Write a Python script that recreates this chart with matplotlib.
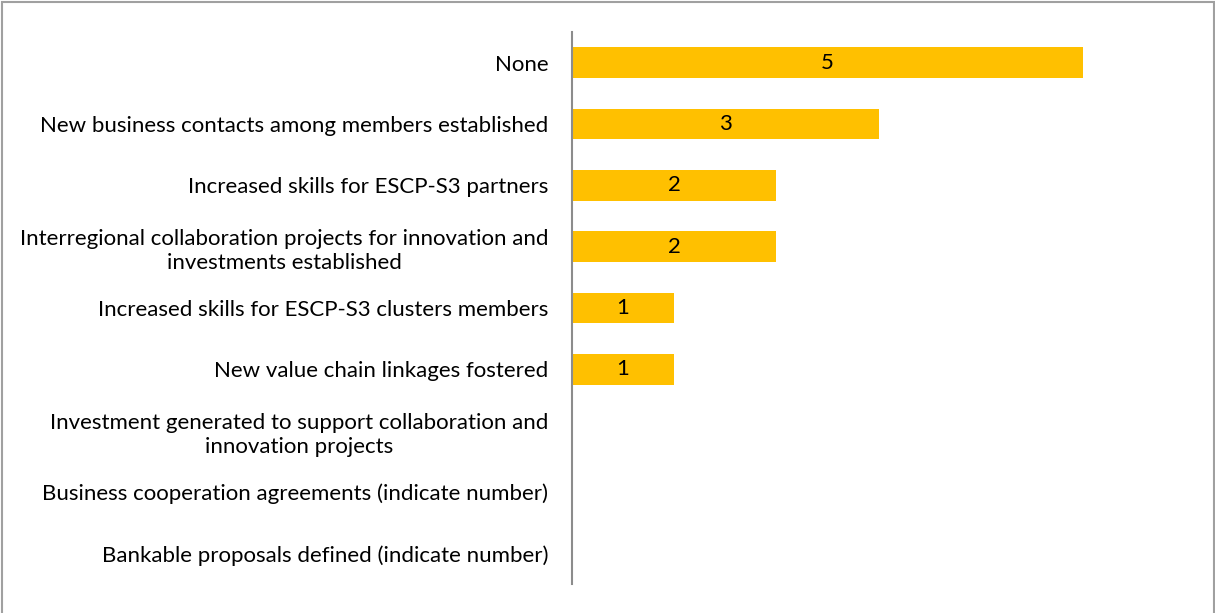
import matplotlib
matplotlib.use("Agg")
import matplotlib.pyplot as plt
from matplotlib.patches import Rectangle

categories = [
    "None",
    "New business contacts among members established",
    "Increased skills for ESCP-S3 partners",
    "Interregional collaboration projects for innovation and\ninvestments established",
    "Increased skills for ESCP-S3 clusters members",
    "New value chain linkages fostered",
    "Investment generated to support collaboration and\ninnovation projects",
    "Business cooperation agreements (indicate number)",
    "Bankable proposals defined (indicate number)",
]
values = [5, 3, 2, 2, 1, 1, 0, 0, 0]

plt.rcParams["font.family"] = ["Lato", "DejaVu Sans"]

fig = plt.figure(figsize=(12.15, 6.13), dpi=100)
ax = fig.add_axes([572 / 1215, 1 - 584 / 613, 613 / 1215, 552 / 613])

pos = list(range(len(categories)))
bars = ax.barh(pos, values, height=0.5, color="#FFC000")
for b, v in zip(bars, values):
    if v > 0:
        ax.text(b.get_width() / 2, b.get_y() + b.get_height() / 2, str(v),
                ha="center", va="center", fontsize=16, color="black")

ax.set_xlim(0, 6)
ax.set_ylim(len(categories) - 0.5, -0.5)
ax.set_yticks(pos)
ax.set_yticklabels(categories, fontsize=16, multialignment="center", linespacing=1.3)
ax.tick_params(axis="y", length=0, pad=17)
ax.set_xticks([])
for s in ["top", "right", "bottom"]:
    ax.spines[s].set_visible(False)
ax.spines["left"].set_color("#8c8c8c")
ax.spines["left"].set_linewidth(1.5)

# outer frame (bottom edge falls outside the image)
fig.patches.append(Rectangle((0.0015, -0.01), 0.9975, 1.006, transform=fig.transFigure,
                             fill=False, edgecolor="#a0a0a0", linewidth=1.5))

fig.savefig("out.png", dpi=100)
